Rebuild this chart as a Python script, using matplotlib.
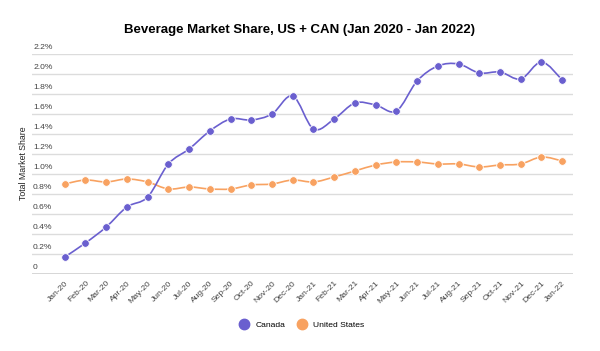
import numpy as np
import matplotlib
matplotlib.use("Agg")
import matplotlib.pyplot as plt
from matplotlib.path import Path
from matplotlib.patches import PathPatch
from matplotlib.lines import Line2D

plt.rcParams['font.family'] = ['Liberation Sans', 'DejaVu Sans']

# data
months = ['Jan-20', 'Feb-20', 'Mar-20', 'Apr-20', 'May-20', 'Jun-20', 'Jul-20', 'Aug-20',
          'Sep-20', 'Oct-20', 'Nov-20', 'Dec-20', 'Jan-21', 'Feb-21', 'Mar-21', 'Apr-21',
          'May-21', 'Jun-21', 'Jul-21', 'Aug-21', 'Sep-21', 'Oct-21', 'Nov-21', 'Dec-21', 'Jan-22']
canada = [0.17, 0.31, 0.47, 0.67, 0.77, 1.10, 1.25, 1.43, 1.55, 1.54, 1.60, 1.78, 1.45,
          1.55, 1.71, 1.69, 1.63, 1.93, 2.08, 2.10, 2.01, 2.02, 1.95, 2.12, 1.94]
us = [0.90, 0.94, 0.92, 0.95, 0.92, 0.85, 0.87, 0.85, 0.85, 0.89, 0.90, 0.94, 0.92,
      0.97, 1.03, 1.09, 1.12, 1.12, 1.10, 1.10, 1.07, 1.09, 1.10, 1.17, 1.13]
yticks = [0, 0.2, 0.4, 0.6, 0.8, 1.0, 1.2, 1.4, 1.6, 1.8, 2.0, 2.2]

c_can = '#6a5fcf'
c_us = '#f8a261'


def smooth_path(xs, ys):
    # catmull-rom as cubic bezier segments
    pts = np.column_stack([xs, ys]).astype(float)
    n = len(pts)
    verts = [pts[0]]
    codes = [Path.MOVETO]
    for i in range(n - 1):
        p0 = pts[max(i - 1, 0)]
        p1 = pts[i]
        p2 = pts[i + 1]
        p3 = pts[min(i + 2, n - 1)]
        c1 = p1 + (p2 - p0) / 6.0
        c2 = p2 - (p3 - p1) / 6.0
        verts += [c1, c2, p2]
        codes += [Path.CURVE4] * 3
    return Path(verts, codes)


fig = plt.figure(figsize=(6, 3.51), dpi=100)
ax = fig.add_axes([0.0533, 0.2194, 0.9017, 0.6268])

x = np.arange(len(months))
for vals, col in [(us, c_us), (canada, c_can)]:
    ax.add_patch(PathPatch(smooth_path(x, vals), facecolor='none', edgecolor=col, lw=1.2, zorder=3))
    ax.plot(x, vals, 'o', color=col, ms=5.5, mec='white', mew=0.6, zorder=4, clip_on=False)

ax.set_xlim(-1.58, 24.52)
ax.set_ylim(0, 2.2)
ax.set_yticks(yticks)
ax.yaxis.grid(True, color='#dcdcdc', lw=1)
ax.tick_params(axis='y', length=0, labelleft=False)
for v in yticks:
    lab = '0' if v == 0 else '%.1f%%' % v
    ax.text(0.002, v + 0.03, lab, transform=ax.get_yaxis_transform(), ha='left', va='bottom',
            fontsize=6.1, color='#444444')

ax.set_xticks(x)
ax.set_xticklabels(months, rotation=45, ha='right', rotation_mode='anchor', fontsize=6.1, color='#444444')
ax.tick_params(axis='x', length=0, pad=4)
for s in ax.spines.values():
    s.set_visible(False)
ax.axhline(0, color='#d0d0d0', lw=1.2, zorder=1)

fig.text(0.04, 0.535, 'Total Market Share', rotation=90, ha='center', va='center', fontsize=6.3, color='#222222')
fig.text(0.5, 0.906, 'Beverage Market Share, US + CAN (Jan 2020 - Jan 2022)', ha='center', va='baseline',
         fontsize=9.5, fontweight='bold', color='#000000')

handles = [Line2D([], [], ls='', marker='o', color=c_can, ms=7.5),
           Line2D([], [], ls='', marker='o', color=c_us, ms=7.5)]
fig.legend(handles, ['Canada', 'United States'], loc='center', bbox_to_anchor=(0.5, 0.075), ncol=2,
           frameon=False, fontsize=6.1, handletextpad=0.3, columnspacing=1.0)

fig.savefig('out.png', dpi=100)
